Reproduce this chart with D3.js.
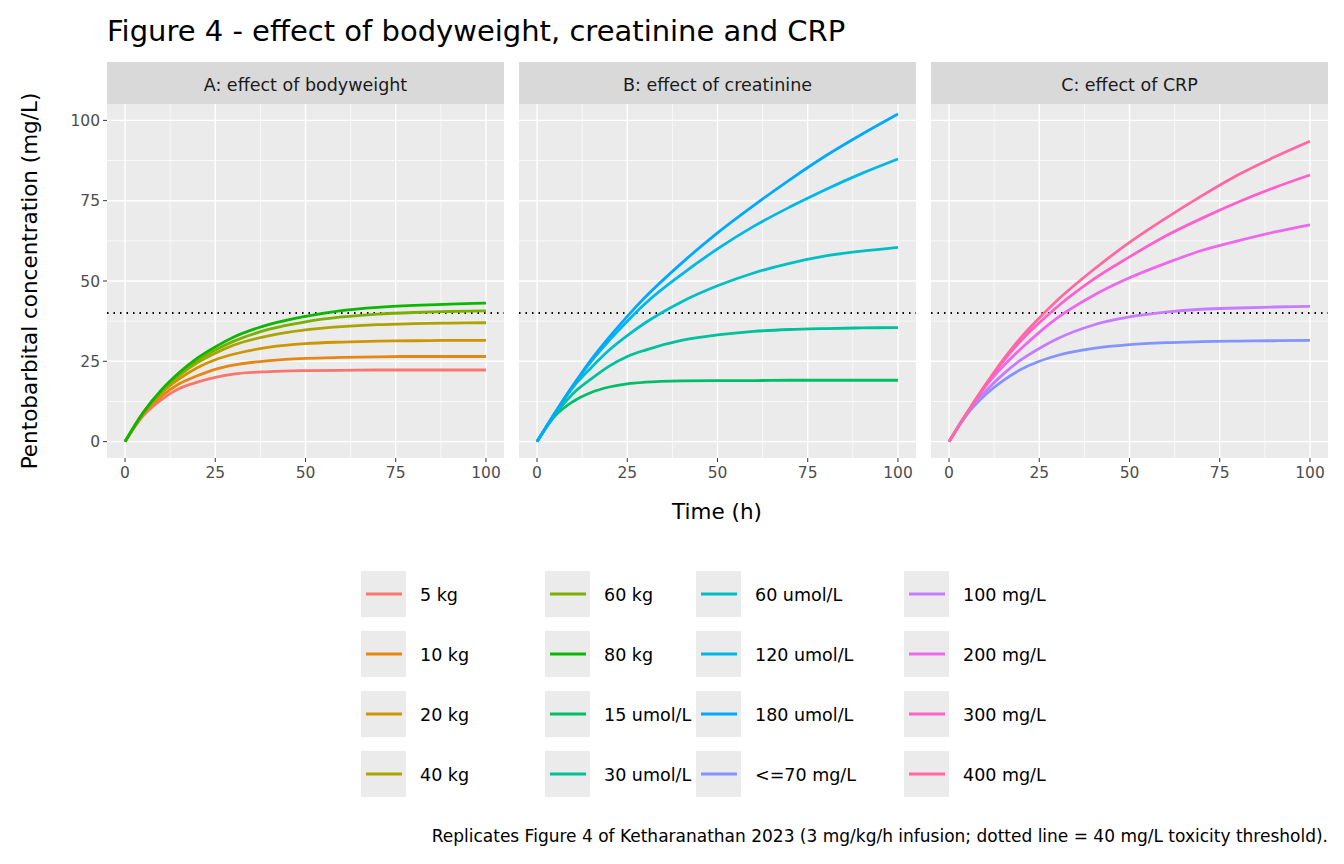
<!DOCTYPE html>
<html><head><meta charset="utf-8">
<script src="https://cdn.jsdelivr.net/npm/d3@7"></script>
<style>body{margin:0;background:#fff}svg{font-family:"DejaVu Sans",sans-serif}</style>
</head><body><svg width="1344" height="864"></svg>
<script>
// data
var times = [0,5,10,15,20,25,30,40,50,60,70,80,90,100];
var panels = ["A: effect of bodyweight","B: effect of creatinine","C: effect of CRP"];
var seriesNames = ["5 kg","10 kg","20 kg","40 kg","60 kg","80 kg",
  "15 umol/L","30 umol/L","60 umol/L","120 umol/L","180 umol/L",
  "<=70 mg/L","100 mg/L","200 mg/L","300 mg/L","400 mg/L"];
var seriesPanel = [0,0,0,0,0,0,1,1,1,1,1,2,2,2,2,2];
var seriesValues = [
  [0,8,13,16.5,18.5,20,21,21.8,22.1,22.2,22.3,22.3,22.3,22.3],
  [0,8.5,14,18,20.5,22.5,23.8,25.2,25.9,26.2,26.4,26.5,26.5,26.5],
  [0,8.8,15,19.5,23,25.5,27.2,29.4,30.5,31,31.3,31.4,31.5,31.5],
  [0,9,15.5,20.5,24.5,27.5,30,33,34.8,35.8,36.4,36.7,36.9,37],
  [0,9,15.8,21,25.2,28.5,31.2,35,37.3,38.8,39.7,40.2,40.5,40.7],
  [0,9,16,21.5,26,29.5,32.5,36.5,39,40.8,41.8,42.4,42.8,43.1],
  [0,8,12.5,15.3,17,18,18.5,18.9,19,19,19.1,19.1,19.1,19.1],
  [0,8.5,15,19.5,23.5,26.5,28.5,31.5,33.2,34.3,34.9,35.2,35.4,35.5],
  [0,9,17,23,28.5,33,37,43.5,48.5,52.5,55.5,57.8,59.3,60.5],
  [0,9,17.5,25,31.5,37.5,43,52,60,67,73,78.5,83.5,88],
  [0,9,17.5,25.5,32.5,39,45,55.5,65,73.5,81.5,89,95.7,102],
  [0,8.5,14.5,19,22.5,25,26.8,29,30.2,30.8,31.1,31.3,31.4,31.5],
  [0,9,15.5,21,25.5,29,32,36.3,38.8,40.3,41.2,41.6,41.9,42.1],
  [0,9,17,23.5,29,34,38.5,45.5,51,55.5,59.5,62.5,65.2,67.5],
  [0,9,17.5,25,31.5,37,42,50.5,57.5,64,69.5,74.5,79,83],
  [0,9,17.5,25.5,32.5,38.5,44,53.5,62,69.5,76.5,83,88.5,93.5]
];
var colors = ["#F8766D","#E68613","#CD9600","#ABA300","#7CAE00","#0CB702","#00BE67","#00C19A",
  "#00BFC4","#00B8E7","#00A9FF","#8494FF","#C77CFF","#ED68ED","#FF61CC","#FF68A1"];
var xTicks = [0,25,50,75,100];
var yTicks = [0,25,50,75,100];
var threshold = 40;

var svg = d3.select("svg");
var panelX = [107,519,931], panelW = 397, plotTop = 104, plotBottom = 458;

var y = d3.scaleLinear().domain([-5.1,105.1]).range([plotBottom, plotTop]);
var line = d3.line().curve(d3.curveMonotoneX);

svg.append("text").attr("x",107).attr("y",41).attr("font-size",29)
  .text("Figure 4 - effect of bodyweight, creatinine and CRP");

panels.forEach(function(p, pi) {
  var x = d3.scaleLinear().domain([-5,105]).range([panelX[pi], panelX[pi]+panelW]);
  var g = svg.append("g");
  g.append("rect").attr("x",panelX[pi]).attr("y",62).attr("width",panelW).attr("height",42).attr("fill","#D9D9D9");
  g.append("text").attr("x",panelX[pi]+panelW/2).attr("y",91).attr("text-anchor","middle")
    .attr("font-size",17.5).attr("fill","#1A1A1A").text(p);
  g.append("rect").attr("x",panelX[pi]).attr("y",plotTop).attr("width",panelW).attr("height",plotBottom-plotTop).attr("fill","#EBEBEB");
  [12.5,37.5,62.5,87.5].forEach(function(v){
    g.append("line").attr("x1",x(v)).attr("x2",x(v)).attr("y1",plotTop).attr("y2",plotBottom).attr("stroke","#fff").attr("stroke-width",0.7);
    g.append("line").attr("x1",panelX[pi]).attr("x2",panelX[pi]+panelW).attr("y1",y(v)).attr("y2",y(v)).attr("stroke","#fff").attr("stroke-width",0.7);
  });
  xTicks.forEach(function(v){
    g.append("line").attr("x1",x(v)).attr("x2",x(v)).attr("y1",plotTop).attr("y2",plotBottom).attr("stroke","#fff").attr("stroke-width",1.4);
    g.append("line").attr("x1",x(v)).attr("x2",x(v)).attr("y1",plotBottom).attr("y2",plotBottom+4).attr("stroke","#333");
    g.append("text").attr("x",x(v)).attr("y",plotBottom+20).attr("text-anchor","middle").attr("font-size",15.5).attr("fill","#4D4D4D").text(v);
  });
  yTicks.forEach(function(v){
    g.append("line").attr("x1",panelX[pi]).attr("x2",panelX[pi]+panelW).attr("y1",y(v)).attr("y2",y(v)).attr("stroke","#fff").attr("stroke-width",1.4);
    if (pi === 0) {
      g.append("line").attr("x1",panelX[pi]-4).attr("x2",panelX[pi]).attr("y1",y(v)).attr("y2",y(v)).attr("stroke","#333");
      g.append("text").attr("x",panelX[pi]-7).attr("y",y(v)+5.5).attr("text-anchor","end").attr("font-size",15.5).attr("fill","#4D4D4D").text(v);
    }
  });
  g.append("line").attr("x1",panelX[pi]).attr("x2",panelX[pi]+panelW).attr("y1",y(threshold)).attr("y2",y(threshold))
    .attr("stroke","#000").attr("stroke-width",2).attr("stroke-dasharray","1.5,5");
  seriesValues.forEach(function(vals, si){
    if (seriesPanel[si] !== pi) return;
    g.append("path").attr("d", line(vals.map(function(v,i){ return [x(times[i]), y(v)]; })))
      .attr("fill","none").attr("stroke",colors[si]).attr("stroke-width",2.8);
  });
});

svg.append("text").attr("x",717).attr("y",519).attr("text-anchor","middle").attr("font-size",21.5).text("Time (h)");
svg.append("text").attr("transform","translate(37,281) rotate(-90)").attr("text-anchor","middle").attr("font-size",21.5)
  .text("Pentobarbital concentration (mg/L)");

// legend
var colX = [361,545,696,904];
seriesNames.forEach(function(n, i){
  var c = Math.floor(i/4), r = i%4;
  var kx = colX[c], ky = 571 + r*60;
  svg.append("rect").attr("x",kx).attr("y",ky).attr("width",45).attr("height",46).attr("fill","#EBEBEB");
  svg.append("line").attr("x1",kx+5).attr("x2",kx+41).attr("y1",ky+23).attr("y2",ky+23).attr("stroke",colors[i]).attr("stroke-width",3);
  svg.append("text").attr("x",kx+59).attr("y",ky+30).attr("font-size",17.5).attr("fill","#000").text(n);
});

svg.append("text").attr("x",1328).attr("y",842).attr("text-anchor","end").attr("font-size",17)
  .text("Replicates Figure 4 of Ketharanathan 2023 (3 mg/kg/h infusion; dotted line = 40 mg/L toxicity threshold).");
</script></body></html>
